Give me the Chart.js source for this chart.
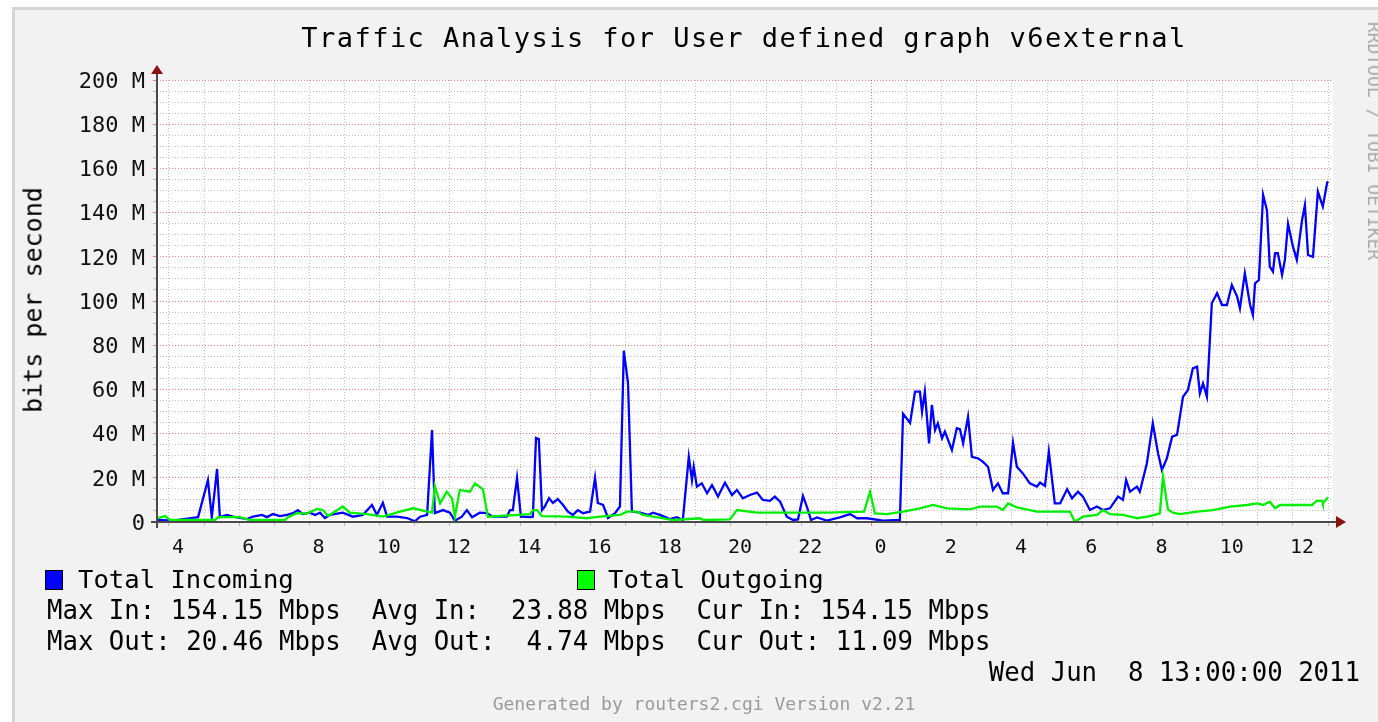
<!DOCTYPE html>
<html><head><meta charset="utf-8">
<script src="https://cdn.jsdelivr.net/npm/chart.js@4.4.0/dist/chart.umd.min.js"></script>
<style>
html,body{margin:0;padding:0;background:#fff;width:1378px;height:722px;overflow:hidden;font-family:"DejaVu Sans Mono",monospace;}
#frame{position:absolute;left:12px;top:7px;width:1400px;height:760px;background:#f2f2f2;border:3px solid #d4d4d4;}
canvas{position:absolute;left:0;top:0;}
.t{position:absolute;white-space:pre;color:#000;line-height:1;}
.sq{position:absolute;width:16px;height:18px;border:1px solid #000;}
</style></head><body>
<div id="frame"></div>
<canvas id="c" width="1378" height="722" style="width:1378px;height:722px"></canvas>
<div class="t" id="title" style="left:744px;top:37px;transform:translate(-50%,-50%);font-size:27px;letter-spacing:1.45px;">Traffic Analysis for User defined graph v6external</div>
<div class="t" id="ylab" style="left:33px;top:300px;transform:translate(-50%,-50%) rotate(-90deg);font-size:25px;">bits per second</div>
<div class="t" id="rrd" style="left:1374px;top:141px;transform:translate(-50%,-50%) rotate(90deg);font-size:18px;color:#a8a8a8;">RRDTOOL / TOBI OETIKER</div>
<div class="sq" style="left:45px;top:570px;background:#0000ff;"></div>
<div class="t" style="left:78px;top:580px;transform:translateY(-50%);font-size:25.6px;">Total Incoming</div>
<div class="sq" style="left:577px;top:570px;background:#00ff00;"></div>
<div class="t" style="left:608px;top:580px;transform:translateY(-50%);font-size:25.6px;">Total Outgoing</div>
<div class="t" style="left:47px;top:611px;transform:translateY(-50%);font-size:25.7px;">Max In: 154.15 Mbps  Avg In:  23.88 Mbps  Cur In: 154.15 Mbps</div>
<div class="t" style="left:47px;top:642px;transform:translateY(-50%);font-size:25.7px;">Max Out: 20.46 Mbps  Avg Out:  4.74 Mbps  Cur Out: 11.09 Mbps</div>
<div class="t" style="right:18px;top:673px;transform:translateY(-50%);font-size:25.7px;">Wed Jun  8 13:00:00 2011</div>
<div class="t" style="left:704px;top:704px;transform:translate(-50%,-50%);font-size:18px;color:#9a9a9a;">Generated by routers2.cgi Version v2.21</div>
<script>
// hours since midnight Jun 7 (24 = midnight Jun 8)
const inHours = [3.69,4.11,4.83,5.11,5.22,5.37,5.45,5.65,5.82,6.22,6.39,6.65,6.79,6.96,7.16,7.36,7.53,7.67,7.81,8.01,8.16,8.30,8.44,8.58,8.95,9.24,9.52,9.78,9.92,10.09,10.21,10.49,10.78,11.00,11.15,11.35,11.49,11.57,11.80,12.00,12.14,12.34,12.48,12.63,12.85,13.05,13.22,13.62,13.71,13.79,13.91,14.02,14.28,14.36,14.45,14.53,14.62,14.70,14.82,14.93,15.07,15.22,15.36,15.50,15.64,15.79,15.99,16.13,16.21,16.36,16.50,16.70,16.84,16.95,17.07,17.18,17.41,17.64,17.78,17.98,18.26,18.46,18.63,18.80,18.89,18.94,19.03,19.17,19.32,19.46,19.63,19.83,20.03,20.17,20.34,20.54,20.74,20.91,21.11,21.25,21.40,21.59,21.77,21.91,22.05,22.16,22.28,22.45,22.73,23.10,23.39,23.59,23.87,24.33,24.81,24.90,25.10,25.24,25.38,25.44,25.52,25.64,25.72,25.81,25.89,26.01,26.09,26.29,26.43,26.52,26.61,26.75,26.86,27.03,27.17,27.32,27.46,27.60,27.74,27.89,28.03,28.14,28.31,28.51,28.71,28.80,28.94,29.05,29.22,29.37,29.57,29.71,29.88,30.02,30.22,30.42,30.59,30.79,31.02,31.16,31.25,31.36,31.56,31.64,31.84,32.01,32.16,32.27,32.41,32.56,32.70,32.87,33.01,33.15,33.27,33.35,33.44,33.55,33.69,33.84,33.98,34.12,34.26,34.41,34.49,34.63,34.78,34.86,34.92,35.03,35.15,35.26,35.34,35.43,35.49,35.57,35.69,35.77,35.86,36.00,36.11,36.26,36.34,36.43,36.57,36.71,36.85,36.97,37.00];
const inMbps = [0.9,0.6,2.2,19,2.2,24,2.2,3.2,2.4,1.3,2.4,3.2,2.2,3.6,2.7,3.2,4.0,5.4,3.6,4.2,3.2,4.2,1.8,3.2,4.2,2.4,3.2,7.7,3.2,8.7,2.4,2.4,1.8,0.3,2.4,3.2,41.6,4.0,5.4,4.2,0.6,2.4,5.4,2.2,4.2,4.0,2.4,2.4,5.4,5.4,20,2.4,2.2,2.4,38,37.5,5.4,7,10.8,8.6,10.4,7.7,4.7,3.2,5.4,4.0,4.7,20,8.6,7.7,1.8,4.0,7,77.5,62.7,4.7,4.2,3.2,4.2,3.2,1.3,2.2,0.9,29.5,19,25,16,17.5,13,16.7,11.5,17.8,12.2,14.5,10.7,12.2,13.3,10,9.6,11.5,9.2,2.4,0.9,1.2,11.8,7,0.9,2.1,0.6,2.1,3.6,1.7,1.7,0.6,0.9,49,44.8,59,59,49.9,59,35.6,53,41.6,44.7,37.9,40.9,32.6,42.4,42,35.6,47.6,29.5,28.8,27.3,25,14.5,17.5,13,13,35.9,25,22,17.5,16,17.8,16.3,31.8,8.4,8.4,14.8,10.7,13.7,11.5,5.4,7,5.4,6.2,11.5,10,19,13.7,16,13.7,26.5,44.7,31,23.5,28.8,38.6,39.4,56.7,59.7,69.5,70.3,58.2,62.7,56.7,99,103.5,98.2,98.2,107.2,102,96.7,112.5,98.2,93.7,108,109.5,148,141,115.5,113.3,121.6,121.6,111.8,118.6,135,124.6,118.6,136.7,143.4,120.8,120,149.5,142.7,153.3,154.15];
const outHours = [3.69,3.89,4.03,5.31,5.40,6.02,6.31,7.30,7.39,7.64,7.93,8.21,8.38,8.53,8.95,9.15,9.64,10.09,10.58,10.95,11.35,11.49,11.57,11.72,11.91,12.06,12.14,12.28,12.57,12.71,12.94,13.08,14.28,14.36,14.48,14.62,15.33,15.90,16.27,16.84,17.04,17.32,17.49,17.92,18.35,19.12,19.22,19.97,20.17,20.74,21.48,21.97,22.73,23.79,23.96,24.10,24.44,24.90,25.38,25.75,26.15,26.80,27.09,27.57,27.74,27.89,28.14,28.71,29.65,29.79,30.02,30.42,30.59,30.79,31.16,31.56,31.93,32.21,32.30,32.44,32.58,32.78,33.27,33.72,34.21,34.69,34.98,35.15,35.34,35.49,35.63,36.54,36.68,36.83,36.85,36.97,37.00];
const outMbps = [1.8,2.7,0.9,0.9,2.2,2.2,0.9,0.9,2.2,4.0,3.8,5.9,5.4,2.7,7,4.2,3.6,2.4,4.7,6.2,4.7,4.2,16.3,8.4,13.7,10.7,2.4,14.5,13.7,17.5,14.8,2.4,3.6,5.4,5.4,2.7,2.4,1.7,2.4,3.2,4.7,4.7,3.2,2.1,0.9,1.7,0.9,1.2,5.4,4.2,4.2,4.2,4.2,4.7,13.7,3.9,3.6,4.7,6.2,7.7,6.2,5.7,7,7,5.4,8.4,6.6,4.7,4.7,0.1,2.4,3.2,5.4,3.6,3.2,1.7,2.7,3.9,20.46,5.7,4.2,3.6,4.7,5.4,7,7.7,8.4,7.7,9.2,6.2,7.7,7.7,9.6,9.6,8.4,10.7,11.09];
const hourTicks = [4,5,6,7,8,9,10,11,12,13,14,15,16,17,18,19,20,21,22,23,24,25,26,27,28,29,30,31,32,33,34,35,36,37];
const mbpsTicks = [0,5,10,15,20,25,30,35,40,45,50,55,60,65,70,75,80,85,90,95,100,105,110,115,120,125,130,135,140,145,150,155,160,165,170,175,180,185,190,195,200];

const RED = 'rgba(255,40,40,0.6)';
const GRAY = 'rgba(140,140,140,0.55)';
const AXIS = '#4a4a4a';
const ARROW = '#8b1111';

const extras = {
  id: 'extras',
  beforeDraw(chart) {
    const {ctx, chartArea: a} = chart;
    ctx.save();
    ctx.fillStyle = '#fff';
    ctx.fillRect(a.left, a.top, a.right - a.left, a.bottom - a.top);
    ctx.restore();
  },
  afterDraw(chart) {
    const {ctx, chartArea: a} = chart;
    ctx.save();
    ctx.strokeStyle = AXIS; ctx.lineWidth = 2;
    ctx.beginPath();
    ctx.moveTo(a.left, a.bottom + 6); ctx.lineTo(a.left, a.top - 8);
    ctx.moveTo(a.left - 6, a.bottom); ctx.lineTo(a.right + 5, a.bottom);
    ctx.stroke();
    ctx.fillStyle = ARROW;
    ctx.beginPath();
    ctx.moveTo(a.left, a.top - 15); ctx.lineTo(a.left - 6, a.top - 6); ctx.lineTo(a.left + 6, a.top - 6); ctx.closePath();
    ctx.fill();
    ctx.beginPath();
    ctx.moveTo(a.right + 13, a.bottom); ctx.lineTo(a.right + 3, a.bottom - 6); ctx.lineTo(a.right + 3, a.bottom + 6); ctx.closePath();
    ctx.fill();
    ctx.restore();
  }
};

new Chart(document.getElementById('c'), {
  type: 'line',
  data: {
    datasets: [
      { label: 'Total Outgoing', data: outHours.map((h, i) => ({x: h, y: outMbps[i]})), borderColor: '#00ee00', borderWidth: 2.3, pointRadius: 0, tension: 0, order: 0 },
      { label: 'Total Incoming', data: inHours.map((h, i) => ({x: h, y: inMbps[i]})), borderColor: '#0000ff', borderWidth: 2.3, pointRadius: 0, tension: 0, order: 1 }
    ]
  },
  options: {
    responsive: false,
    animation: false,
    events: [],
    layout: { padding: { left: 0, top: 80, right: 45, bottom: 0 } },
    plugins: { legend: { display: false }, title: { display: false }, tooltip: { enabled: false } },
    scales: {
      x: {
        type: 'linear', min: 3.66, max: 37.14,
        afterBuildTicks: s => { s.ticks = hourTicks.map(v => ({value: v})); },
        afterFit: s => { s.height = 200; },
        ticks: {
          autoSkip: false, maxRotation: 0, minRotation: 0, labelOffset: 9, padding: 10,
          color: '#111', font: { family: 'DejaVu Sans Mono', size: 20 },
          callback: v => (v % 2 === 0 ? String(v % 24) : '')
        },
        grid: { color: c => (c.tick && c.tick.value === 24 ? RED : GRAY), lineWidth: 1, tickLength: 4, drawOnChartArea: true },
        border: { display: false, dash: [1, 2] }
      },
      y: {
        min: 0, max: 200,
        afterBuildTicks: s => { s.ticks = mbpsTicks.map(v => ({value: v})); },
        afterFit: s => { s.width = 157; },
        ticks: {
          autoSkip: false, padding: 8, labelOffset: 2,
          color: '#111', font: { family: 'DejaVu Sans Mono', size: 22 },
          callback: v => (v % 20 === 0 ? (v === 0 ? '0' : v + ' M') : '')
        },
        grid: { color: c => (c.tick && c.tick.value % 20 === 0 ? RED : GRAY), lineWidth: 1, tickLength: 4 },
        border: { display: false, dash: [1, 2] }
      }
    }
  },
  plugins: [extras]
});
</script>
</body></html>
